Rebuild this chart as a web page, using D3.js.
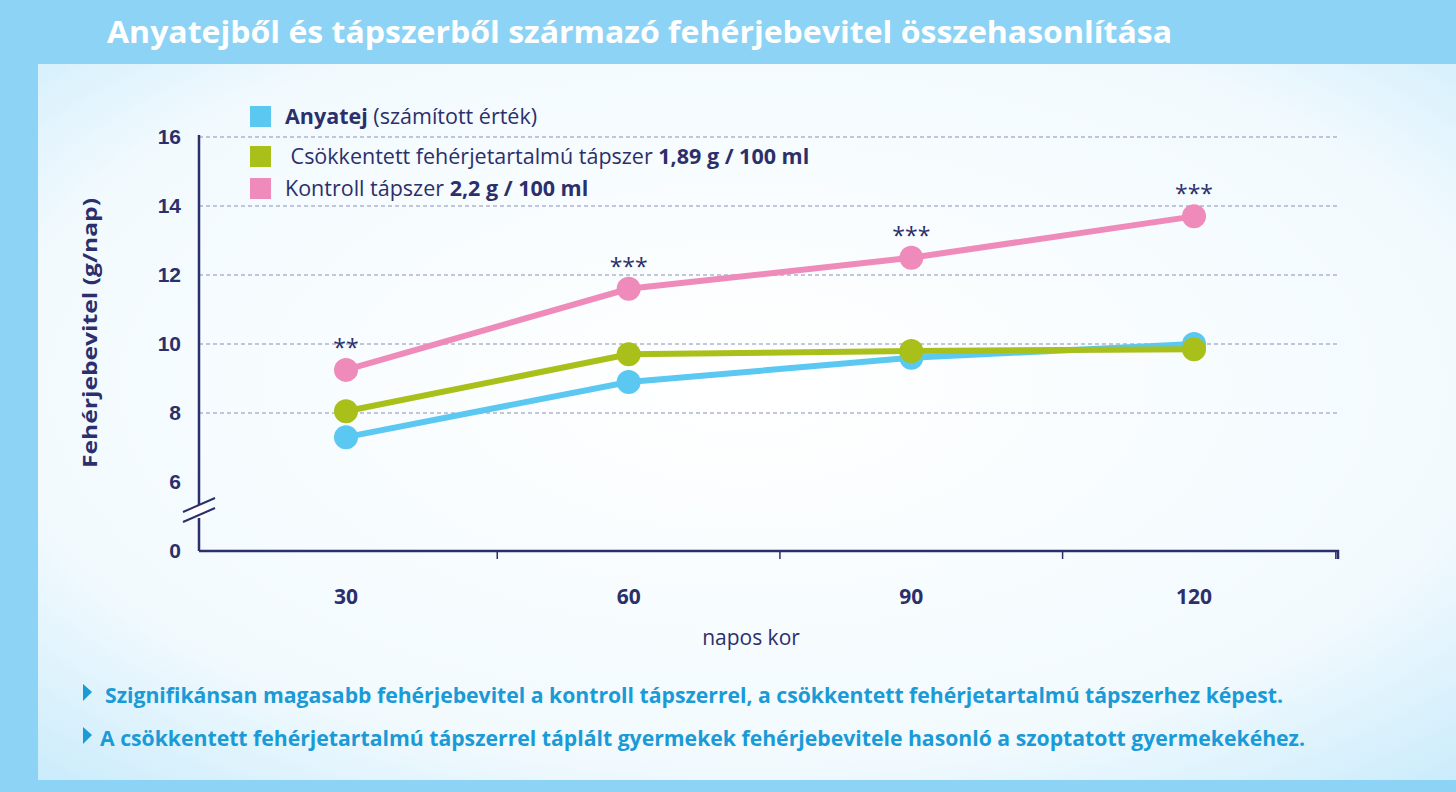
<!DOCTYPE html>
<html><head><meta charset="utf-8">
<script src="https://cdn.jsdelivr.net/npm/d3@7"></script>
<style>body{margin:0;background:#8dd3f5;}svg{display:block;}</style>
</head><body><div id="chart"></div>
<script>
var days = [30, 60, 90, 120];
var anyatej = [7.3, 8.9, 9.6, 10.0];
var csokkentett = [8.05, 9.7, 9.8, 9.85];
var kontroll = [9.25, 11.6, 12.5, 13.7];
var stars = ["**", "***", "***", "***"];
var yTicks = [0, 6, 8, 10, 12, 14, 16];
var xTicks = [46, 76, 106, 135];

var W = 1456, H = 792;
var svg = d3.select("#chart").append("svg").attr("width", W).attr("height", H)
    .style("font-family", "'Open Sans', sans-serif");

var defs = svg.append("defs");
var grad = defs.append("radialGradient").attr("id", "bg").attr("cx", "50%").attr("cy", "45%").attr("r", "75%");
grad.append("stop").attr("offset", "0%").attr("stop-color", "#ffffff");
grad.append("stop").attr("offset", "70%").attr("stop-color", "#f2fafe");
grad.append("stop").attr("offset", "100%").attr("stop-color", "#c9ebfb");

svg.append("rect").attr("width", W).attr("height", H).attr("fill", "#8dd3f5");
svg.append("rect").attr("x", 38).attr("y", 64).attr("width", W - 38).attr("height", 716).attr("fill", "url(#bg)");

svg.append("text").attr("x", 107).attr("y", 43).attr("fill", "#fff")
    .attr("font-size", 31).attr("font-weight", "bold")
    .attr("textLength", 1065).attr("lengthAdjust", "spacingAndGlyphs")
    .text("Anyatejből és tápszerből származó fehérjebevitel összehasonlítása");

var navy = "#2b2f6b";
var x = d3.scaleLinear().domain([30, 120]).range([346, 1194]);
var y = d3.scaleLinear().domain([0, 6, 16]).range([551, 482, 137]);

// gridlines
svg.append("g").selectAll("line").data(yTicks.filter(function(d){ return d >= 8; }))
    .enter().append("line")
    .attr("x1", 199).attr("x2", 1338)
    .attr("y1", function(d){ return y(d); }).attr("y2", function(d){ return y(d); })
    .attr("stroke", "#8a8fb8").attr("stroke-dasharray", "4,3").attr("stroke-width", 1);

// axes
var yAxis = d3.axisLeft(y).tickValues(yTicks).tickSize(0).tickPadding(18);
var gy = svg.append("g").attr("transform", "translate(199,0)").call(yAxis);
gy.select(".domain").attr("stroke", navy).attr("stroke-width", 2.5).attr("d", "M0,135V551");
gy.selectAll("text").attr("fill", navy).attr("font-size", 21).attr("font-weight", "bold");

var xAxis = d3.axisBottom(x).tickValues(xTicks).tickSize(8).tickFormat("");
var gx = svg.append("g").attr("transform", "translate(0,551)").call(xAxis);
gx.select(".domain").attr("stroke", navy).attr("stroke-width", 2.5).attr("d", "M199,0H1338V8");
gx.selectAll("line").attr("stroke", navy).attr("stroke-width", 1.5);

svg.append("g").selectAll("text").data(days).enter().append("text")
    .attr("x", function(d){ return x(d); }).attr("y", 604)
    .attr("text-anchor", "middle").attr("fill", navy)
    .attr("font-size", 21).attr("font-weight", "bold").text(function(d){ return d; });

svg.append("text").attr("x", 751).attr("y", 645).attr("text-anchor", "middle")
    .attr("fill", navy).attr("font-size", 21).text("napos kor");

svg.append("text").attr("transform", "translate(97,333) rotate(-90)")
    .attr("text-anchor", "middle").attr("fill", navy).attr("font-size", 20)
    .attr("font-weight", "bold").attr("textLength", 270).attr("lengthAdjust", "spacingAndGlyphs")
    .text("Fehérjebevitel (g/nap)");

// axis break
var brk = svg.append("g");
brk.append("rect").attr("x", 190).attr("y", 505).attr("width", 18).attr("height", 13).attr("fill", "#fff");
[0, 10].forEach(function(o){
    brk.append("line").attr("x1", 183).attr("y1", 522 - o).attr("x2", 215).attr("y2", 508 - o)
        .attr("stroke", navy).attr("stroke-width", 2);
});

// series
var series = [
    {values: anyatej, color: "#5bc8f2"},
    {values: csokkentett, color: "#a9bf1a"},
    {values: kontroll, color: "#ef8bbb"}
];
var line = d3.line().x(function(d, i){ return x(days[i]); }).y(function(d){ return y(d); });
series.forEach(function(s){
    svg.append("path").datum(s.values).attr("d", line).attr("fill", "none")
        .attr("stroke", s.color).attr("stroke-width", 6);
});
series.forEach(function(s){
    svg.append("g").selectAll("circle").data(s.values).enter().append("circle")
        .attr("cx", function(d, i){ return x(days[i]); }).attr("cy", function(d){ return y(d); })
        .attr("r", 12).attr("fill", s.color);
});

svg.append("g").selectAll("text").data(stars).enter().append("text")
    .attr("x", function(d, i){ return x(days[i]); })
    .attr("y", function(d, i){ return y(kontroll[i]) - 14; })
    .attr("text-anchor", "middle").attr("fill", navy).attr("font-size", 23)
    .text(function(d){ return d; });

// legend
var legend = [
    {color: "#5bc8f2", y: 116, parts: [["Anyatej", true], [" (számított érték)", false]]},
    {color: "#a9bf1a", y: 156, parts: [[" Csökkentett fehérjetartalmú tápszer ", false], ["1,89 g / 100 ml", true]]},
    {color: "#ef8bbb", y: 188, parts: [["Kontroll tápszer ", false], ["2,2 g / 100 ml", true]]}
];
legend.forEach(function(l){
    svg.append("rect").attr("x", 250).attr("y", l.y - 10).attr("width", 21).attr("height", 21).attr("fill", l.color);
    var t = svg.append("text").attr("x", 285).attr("y", l.y + 8).attr("fill", navy).attr("font-size", 21.5);
    l.parts.forEach(function(p){
        t.append("tspan").attr("font-weight", p[1] ? "bold" : "normal").attr("xml:space", "preserve").text(p[0]);
    });
});

// notes
var notes = [
    {y: 703, x: 105, w: 1178, text: "Szignifikánsan magasabb fehérjebevitel a kontroll tápszerrel, a csökkentett fehérjetartalmú tápszerhez képest."},
    {y: 746, x: 100, w: 1205, text: "A csökkentett fehérjetartalmú tápszerrel táplált gyermekek fehérjebevitele hasonló a szoptatott gyermekekéhez."}
];
notes.forEach(function(n){
    svg.append("path").attr("d", "M83," + (n.y - 19) + "L92," + (n.y - 11) + "L83," + (n.y - 2) + "Z").attr("fill", "#1a9ad6");
    svg.append("text").attr("x", n.x).attr("y", n.y).attr("fill", "#1a9ad6")
        .attr("font-size", 20.5).attr("font-weight", "bold")
        .attr("textLength", n.w).attr("lengthAdjust", "spacingAndGlyphs").text(n.text);
});
</script></body></html>
